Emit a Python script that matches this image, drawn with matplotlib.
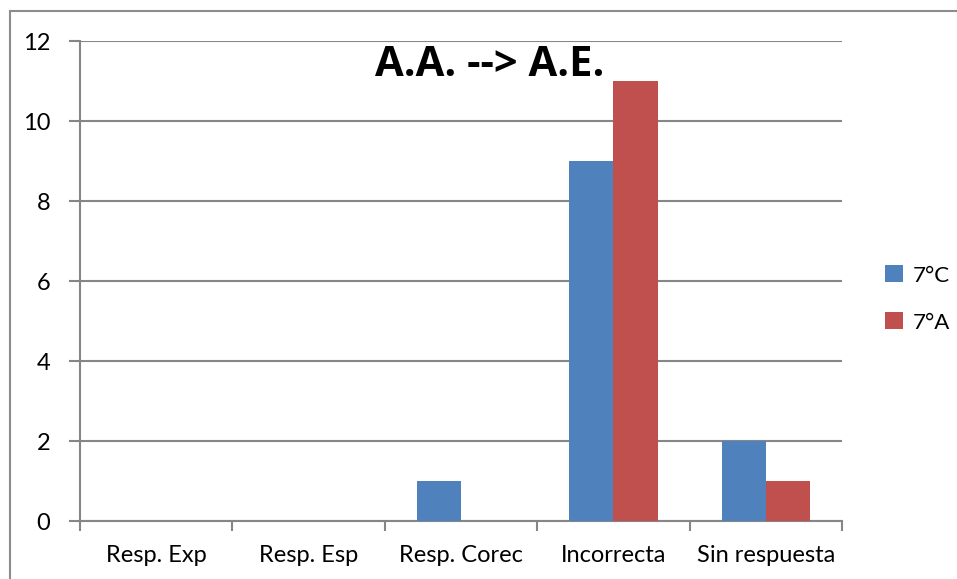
import matplotlib
matplotlib.use("Agg")
import matplotlib.pyplot as plt
import numpy as np
from matplotlib.patches import Rectangle

categories = ["Resp. Exp", "Resp. Esp", "Resp. Corec", "Incorrecta", "Sin respuesta"]
series_names = ["7°C", "7°A"]
values_7c = [0, 0, 1, 9, 2]
values_7a = [0, 0, 0, 11, 1]
yticks = [0, 2, 4, 6, 8, 10, 12]
title = "A.A. --> A.E."

plt.rcParams["font.family"] = ["Lato", "DejaVu Sans"]

W, H = 957, 579
fig = plt.figure(figsize=(W / 100, H / 100), dpi=100)

# chart-area frame
fig.patches.append(Rectangle((10 / W, -0.1), 2, (H - 11) / H + 0.1,
                             transform=fig.transFigure, fill=False,
                             edgecolor="#8c8c8c", linewidth=1.5))

left, right, top, bottom = 80, 842, 41, 521
ax = fig.add_axes([left / W, (H - bottom) / H, (right - left) / W, (bottom - top) / H])

grid_col = "#868686"
x = np.arange(len(categories))
bw = 0.29
ax.bar(x - bw / 2, values_7c, bw, color="#4F81BD", label=series_names[0], zorder=3)
ax.bar(x + bw / 2, values_7a, bw, color="#C0504D", label=series_names[1], zorder=3)

ax.set_xlim(-0.5, len(categories) - 0.5)
ax.set_ylim(0, 12)
ax.set_yticks(yticks)
ax.yaxis.grid(True, color=grid_col, linewidth=1.5, zorder=0)
ax.set_axisbelow(True)

ax.set_xticks(np.arange(-0.5, len(categories), 1.0))
ax.set_xticklabels([])
ax.set_xticks(x, minor=True)
ax.set_xticklabels(categories, minor=True)
ax.tick_params(axis="x", which="minor", length=0, pad=17.5, labelsize=17)
ax.tick_params(axis="x", which="major", length=7, width=1.5, color=grid_col)
ax.tick_params(axis="y", length=8, width=1.5, color=grid_col, pad=13.5, labelsize=17)

for s in ["top", "right"]:
    ax.spines[s].set_visible(False)
for s in ["left", "bottom"]:
    ax.spines[s].set_color(grid_col)
    ax.spines[s].set_linewidth(1.5)

fig.text(490 / W, 1 - 65 / H, title, ha="center", va="center",
         fontsize=30, fontweight="bold", family=["Open Sans", "DejaVu Sans"])

ax.legend(loc="center left", bbox_to_anchor=(885 / W, 1 - 299 / H),
          bbox_transform=fig.transFigure, frameon=False, fontsize=16,
          borderpad=0, borderaxespad=0,
          handlelength=0.8, handleheight=0.8, handletextpad=0.45, labelspacing=1.2)

fig.savefig("out.png", dpi=100)
